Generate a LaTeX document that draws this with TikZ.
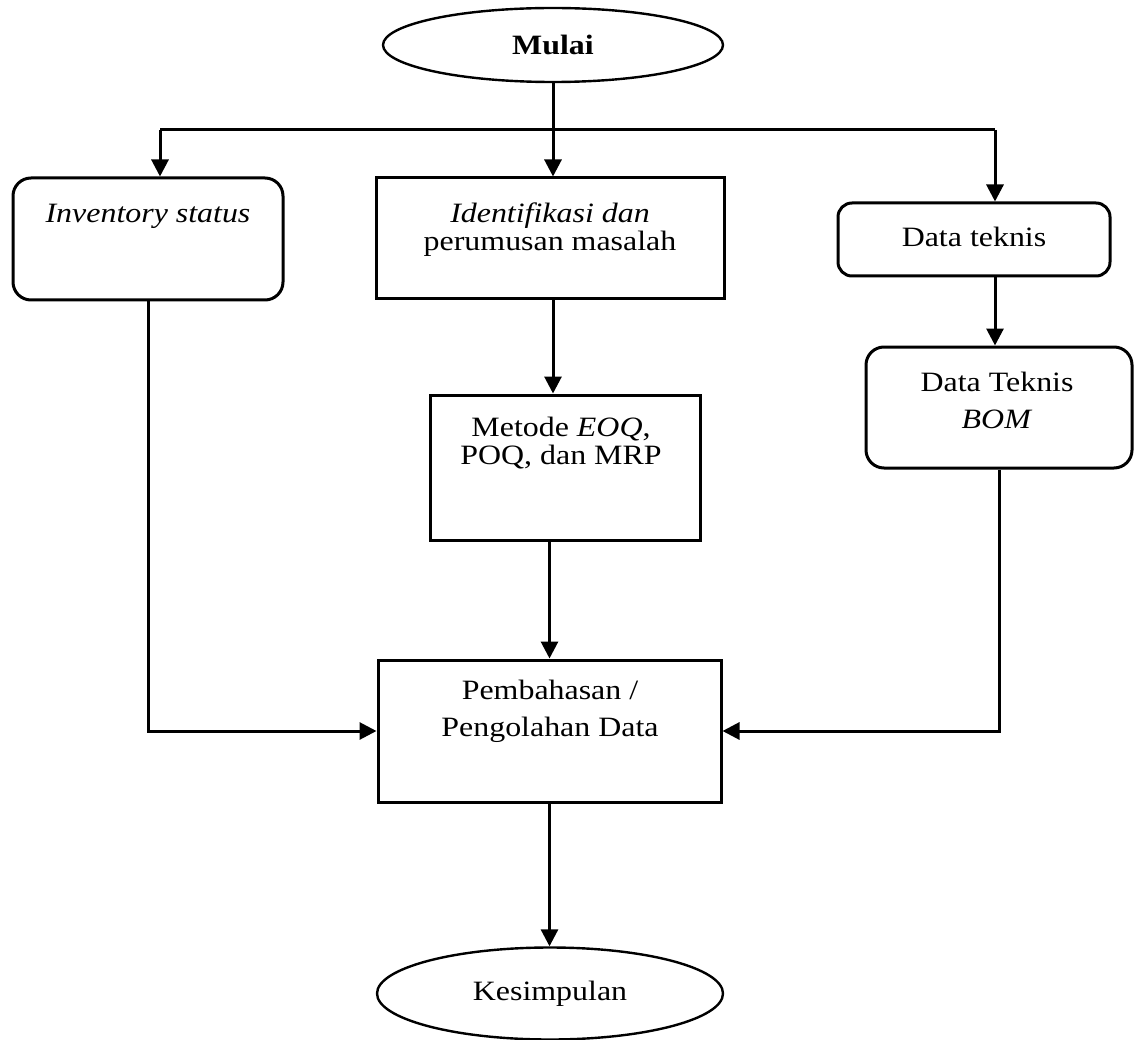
\documentclass[tikz,border=0pt]{standalone}
\usepackage{fontspec}
\setmainfont{Liberation Serif}[FakeStretch=1.14]
\usetikzlibrary{arrows.meta,shapes.geometric}
\begin{document}
\begin{tikzpicture}[x=1pt,y=-1pt,
  line width=3pt,
  every node/.style={font=\fontsize{28}{28}\selectfont, inner sep=0pt},
  arr/.style={-{Triangle[length=17pt,width=17pt]}},
  oval/.style={draw, ellipse, line width=2.4pt},
  plainbox/.style={draw, rectangle},
  roundbox/.style={draw, rectangle, rounded corners=18pt},
  txt/.style={align=center}
]
\useasboundingbox (0,0) rectangle (1134,1040);

% shapes
\node[oval, minimum width=340pt, minimum height=74pt, font=\fontsize{28}{28}\selectfont\bfseries] (mulai) at (553,45) {Mulai};

\node[roundbox, minimum width=270pt, minimum height=122pt] (inv) at (148,239) {};
\node[txt] (invt) at (148,216.5) {\itshape Inventory status};

\node[plainbox, minimum width=348pt, minimum height=121pt] (ident) at (550,238.5) {};
\node[txt] (identt) at (550,230) {\itshape Identifikasi dan\\perumusan masalah};

\node[plainbox, minimum width=270pt, minimum height=145pt] (metode) at (565,467.5) {};
\node[txt] (metodet) at (561,443) {Metode \textit{EOQ},\\POQ, dan MRP};

\node[roundbox, rounded corners=14pt, minimum width=272pt, minimum height=73pt] (dt) at (974,239.5) {};
\node[txt] (dtt) at (974,237) {Data teknis};

\node[roundbox, minimum width=266pt, minimum height=121pt] (bom) at (999,407.5) {};
\node[txt, font=\fontsize{28}{37}\selectfont] (bomt) at (997,400) {Data Teknis\\\textit{BOM}};

\node[plainbox, minimum width=343pt, minimum height=142pt] (pemb) at (549.5,731) {};
\node[txt, font=\fontsize{28}{37}\selectfont] (pembt) at (550,711) {Pembahasan /\\Pengolahan Data};

\node[oval, minimum width=346pt, minimum height=92pt] (kes) at (550,993.5) {Kesimpulan};

% bus
\coordinate (busL) at (160,130);
\coordinate (busR) at (995,130);

% connectors
\draw (mulai.south) -- (mulai.south |- busL);
\draw (busL) -- (busR);
\draw[arr] (busL) -- (busL |- inv.north);
\draw[arr] (mulai.south |- busL) -- (mulai.south |- ident.north);
\draw[arr] (busR) -- (busR |- dt.north);
\draw[arr] (busR |- dt.south) -- (busR |- bom.north);
\draw[arr] (mulai.south |- ident.south) -- (mulai.south |- metode.north);
\draw[arr] (pemb.north |- metode.south) -- (pemb.north);
\draw[arr] (inv.south) |- (pemb.west);
\draw[arr] (bom.south) |- (pemb.east);
\draw[arr] (pemb.south) -- (pemb.south |- kes.north);
\end{tikzpicture}
\end{document}
